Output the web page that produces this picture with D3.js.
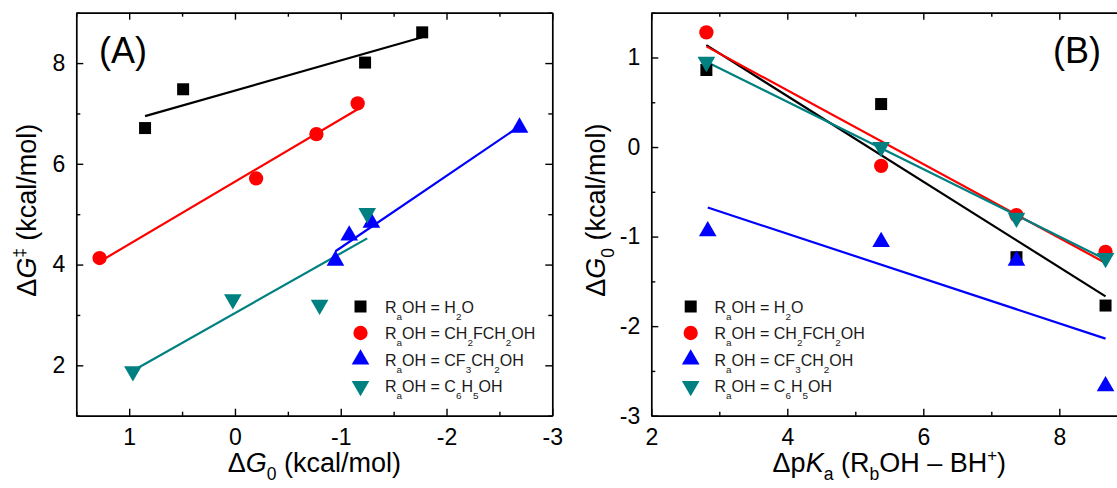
<!DOCTYPE html>
<html><head><meta charset="utf-8">
<script src="https://cdn.jsdelivr.net/npm/d3@7"></script>
<style>body{margin:0;background:#fff} svg{display:block}</style>
</head><body>
<svg id="chart" width="1117" height="488"></svg>
<script>
// ---------- data ----------
const seriesNames = ["H2O", "CH2FCH2OH", "CF3CH2OH", "C6H5OH"];
const seriesColors = ["#000000", "#ff0000", "#0000ff", "#008080"];
const seriesSymbols = ["square", "circle", "triangle", "triangleDown"];

// Panel A: x = ΔG0, y = ΔG‡
const aH2O  = [[0.85, 6.71], [0.49, 7.48], [-1.23, 8.01], [-1.77, 8.61]];
const aCH2F = [[1.28, 4.13], [-0.20, 5.71], [-0.77, 6.59], [-1.16, 7.20]];
const aCF3  = [[-0.95, 4.08], [-1.08, 4.58], [-1.29, 4.83], [-2.69, 6.72]];
const aC6H5 = [[0.965, 1.88], [0.02, 3.31], [-0.80, 3.20], [-1.25, 5.02]];

// Panel B: x = ΔpKa, y = ΔG0
const bH2O  = [[2.81, 0.86], [5.38, 0.48], [7.37, -1.23], [8.68, -1.77]];
const bCH2F = [[2.81, 1.28], [5.38, -0.21], [7.37, -0.76], [8.68, -1.17]];
const bCF3  = [[2.83, -0.94], [5.38, -1.06], [7.37, -1.27], [8.68, -2.67]];
const bC6H5 = [[2.81, 0.95], [5.38, 0.00], [7.37, -0.79], [8.68, -1.24]];

// axes
const aXDomain = [1.5, -3], aYDomain = [1, 9];
const aXMajor = [1, 0, -1, -2, -3], aXMinor = [1.5, 0.5, -0.5, -1.5, -2.5];
const aYMajor = [2, 4, 6, 8], aYMinor = [1, 3, 5, 7, 9];
const bXDomain = [2, 9], bYDomain = [-3, 1.5];
const bXMajor = [2, 4, 6, 8], bXMinor = [3, 5, 7, 9];
const bYMajor = [-3, -2, -1, 0, 1], bYMinor = [-2.5, -1.5, -0.5, 0.5, 1.5];

// legend labels (segments: text, kind)
const legendLabels = [
  [["R",""],["a","sub"],["OH = H",""],["2","sub"],["O",""]],
  [["R",""],["a","sub"],["OH = CH",""],["2","sub"],["FCH",""],["2","sub"],["OH",""]],
  [["R",""],["a","sub"],["OH = CF",""],["3","sub"],["CH",""],["2","sub"],["OH",""]],
  [["R",""],["a","sub"],["OH = C",""],["6","sub"],["H",""],["5","sub"],["OH",""]]
];

// ---------- drawing ----------
const FONT = "'Liberation Sans', Arial, Helvetica, sans-serif";
const svg = d3.select("#chart").attr("font-family", FONT);

function symbolPath(kind) {
  const map = {square: [d3.symbolSquare, 144], circle: [d3.symbolCircle, 160],
               triangle: [d3.symbolTriangle, 135], triangleDown: [d3.symbolTriangle, 135]};
  const [t, s] = map[kind];
  return d3.symbol().type(t).size(s)();
}
function symbolTransform(kind, x, y) {
  return `translate(${x},${y})` + (kind === "triangleDown" ? " rotate(180)" : "");
}

function fitLine(pts) {
  const mx = d3.mean(pts, p => p[0]), my = d3.mean(pts, p => p[1]);
  let sxx = 0, sxy = 0;
  pts.forEach(p => { sxx += (p[0]-mx)**2; sxy += (p[0]-mx)*(p[1]-my); });
  const b = sxy / sxx, a = my - b*mx;
  const [x0, x1] = d3.extent(pts, p => p[0]);
  return [[x0, a + b*x0], [x1, a + b*x1]];
}

function rich(parent, segs, fs, opts = {}) {
  const t = parent.append("text").attr("font-size", fs);
  let shift = 0;
  segs.forEach(([txt, kind]) => {
    const sp = t.append("tspan").text(txt);
    let target = 0, size = fs;
    if (kind === "sub") { target = fs * (opts.subShift || 0.42); size = fs * (opts.subSize || 0.62); }
    if (kind === "sup") { target = -fs * 0.42; size = fs * 0.62; }
    if (kind === "it") sp.attr("font-style", "italic");
    sp.attr("dy", target - shift).attr("font-size", size);
    shift = target;
  });
  return t;
}

function panel(cfg) {
  const g = svg.append("g").attr("transform", `translate(${cfg.left},${cfg.top})`);
  const w = cfg.w, h = cfg.h;
  const x = d3.scaleLinear().domain(cfg.xDomain).range([0, w]);
  const y = d3.scaleLinear().domain(cfg.yDomain).range([h, 0]);
  const fmt = d => String(d);

  const style = sel => {
    sel.attr("font-family", FONT).attr("font-size", 23);
    sel.selectAll(".domain").attr("stroke", "#000").attr("stroke-width", 1.7);
    sel.selectAll(".tick line").attr("stroke", "#000").attr("stroke-width", 1.4);
    sel.selectAll(".tick text").attr("fill", "#000");
  };
  const noDomain = sel => sel.select(".domain").remove();

  // bottom
  g.append("g").attr("transform", `translate(0,${h})`)
    .call(d3.axisBottom(x).tickValues(cfg.xMajor).tickSizeInner(-7).tickSizeOuter(0).tickPadding(13).tickFormat(fmt)).call(style);
  g.append("g").attr("transform", `translate(0,${h})`)
    .call(d3.axisBottom(x).tickValues(cfg.xMinor).tickSizeInner(-4).tickSizeOuter(0).tickFormat("")).call(noDomain).call(style);
  // top
  g.append("g").call(d3.axisTop(x).tickValues(cfg.xMajor).tickSizeInner(-7).tickSizeOuter(0).tickFormat("")).call(style);
  g.append("g").call(d3.axisTop(x).tickValues(cfg.xMinor).tickSizeInner(-4).tickSizeOuter(0).tickFormat("")).call(noDomain).call(style);
  // left
  g.append("g").call(d3.axisLeft(y).tickValues(cfg.yMajor).tickSizeInner(-7).tickSizeOuter(0).tickPadding(11).tickFormat(fmt)).call(style);
  g.append("g").call(d3.axisLeft(y).tickValues(cfg.yMinor).tickSizeInner(-4).tickSizeOuter(0).tickFormat("")).call(noDomain).call(style);
  // right
  g.append("g").attr("transform", `translate(${w},0)`)
    .call(d3.axisRight(y).tickValues(cfg.yMajor).tickSizeInner(-7).tickSizeOuter(0).tickFormat("")).call(style);
  g.append("g").attr("transform", `translate(${w},0)`)
    .call(d3.axisRight(y).tickValues(cfg.yMinor).tickSizeInner(-4).tickSizeOuter(0).tickFormat("")).call(noDomain).call(style);

  // fit lines
  const line = d3.line().x(d => x(d[0])).y(d => y(d[1]));
  cfg.series.forEach((pts, i) => {
    g.append("path").attr("d", line(fitLine(pts))).attr("fill", "none")
      .attr("stroke", seriesColors[i]).attr("stroke-width", 2.2);
  });
  // markers
  cfg.series.forEach((pts, i) => {
    g.append("g").selectAll("path").data(pts).join("path")
      .attr("d", symbolPath(seriesSymbols[i]))
      .attr("transform", d => symbolTransform(seriesSymbols[i], x(d[0]), y(d[1])))
      .attr("fill", seriesColors[i]);
  });

  // legend
  const lg = svg.append("g");
  legendLabels.forEach((segs, i) => {
    const cy = cfg.legendY + i * cfg.legendStep;
    lg.append("path").attr("d", symbolPath(seriesSymbols[i]))
      .attr("transform", symbolTransform(seriesSymbols[i], cfg.legendMarkerX, cy))
      .attr("fill", seriesColors[i]);
    rich(lg, segs, 16, {subShift: 0.45, subSize: 0.62})
      .attr("x", cfg.legendTextX).attr("y", cy + 6).attr("fill", "#1a1a1a");
  });

  // panel label
  svg.append("text").text(cfg.tag).attr("font-size", 36)
    .attr("x", cfg.tagX).attr("y", cfg.tagY).attr("text-anchor", cfg.tagAnchor).attr("fill", "#000");

  // x title
  rich(svg, cfg.xTitle, 27, {subShift: 0.28, subSize: 0.65})
    .attr("x", cfg.left + w / 2 + (cfg.xTitleDx || 0)).attr("y", cfg.xTitleY).attr("text-anchor", "middle").attr("fill", "#000");
  // y title
  rich(svg, cfg.yTitle, 27, {subShift: 0.35, subSize: 0.65})
    .attr("text-anchor", "middle").attr("fill", "#000")
    .attr("transform", `translate(${cfg.yTitleX},${cfg.top + h / 2 - 4}) rotate(-90)`);
}

panel({
  left: 76.3, top: 12.7, w: 476, h: 403,
  xDomain: aXDomain, yDomain: aYDomain,
  xMajor: aXMajor, xMinor: aXMinor, yMajor: aYMajor, yMinor: aYMinor,
  series: [aH2O, aCH2F, aCF3, aC6H5],
  legendMarkerX: 360.5, legendTextX: 385, legendY: 306.5, legendStep: 26.5,
  tag: "(A)", tagX: 99, tagY: 63, tagAnchor: "start",
  xTitle: [["\u0394",""],["G","it"],["0","sub"],[" (kcal/mol)",""]], xTitleY: 472,
  yTitle: [["\u0394",""],["G","it"],["\u2021","sup"],[" (kcal/mol)",""]], yTitleX: 36
});

panel({
  left: 651.3, top: 12.7, w: 476, h: 403,
  xDomain: bXDomain, yDomain: bYDomain,
  xMajor: bXMajor, xMinor: bXMinor, yMajor: bYMajor, yMinor: bYMinor,
  series: [bH2O, bCH2F, bCF3, bC6H5],
  legendMarkerX: 690.7, legendTextX: 714.5, legendY: 306.5, legendStep: 26.5,
  tag: "(B)", tagX: 1101, tagY: 63, tagAnchor: "end",
  xTitle: [["\u0394p",""],["K","it"],["a","sub"],[" (R",""],["b","sub"],["OH \u2013 BH",""],["+","sup"],[")",""]],
  xTitleY: 472, xTitleDx: 0,
  yTitle: [["\u0394",""],["G","it"],["0","sub"],[" (kcal/mol)",""]], yTitleX: 605
});
</script>
</body></html>
